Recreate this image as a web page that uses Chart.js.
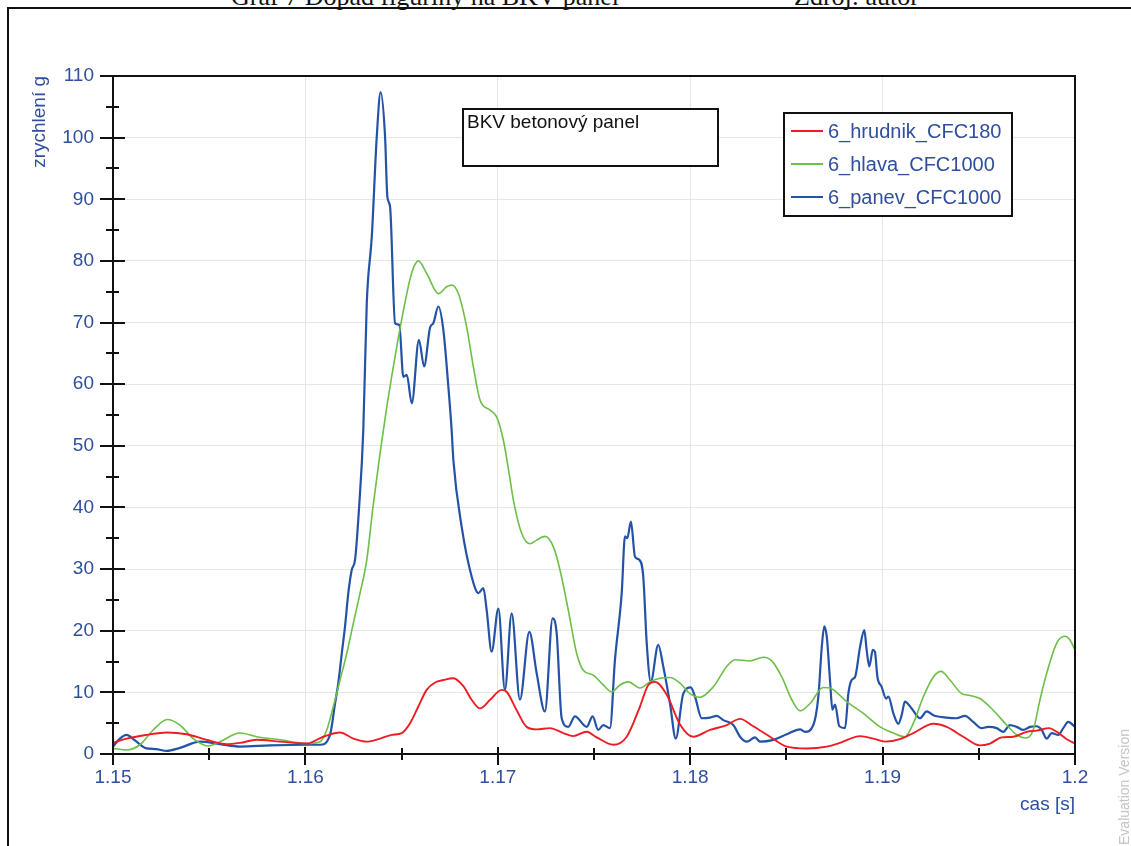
<!DOCTYPE html>
<html>
<head>
<meta charset="utf-8">
<script src="https://cdn.jsdelivr.net/npm/chart.js@4/dist/chart.umd.min.js"></script>
<style>
  html, body { margin: 0; padding: 0; background: #fff; width: 1131px; height: 846px; overflow: hidden; }
  #wrap { position: relative; width: 1131px; height: 846px; }
  #plot { position: absolute; left: 0; top: 0; }
  .frame { position: absolute; left: 7px; top: 7px; width: 1130px; height: 845px;
           border-top: 2px solid #111; border-left: 2px solid #111; }
  .caption { position: absolute; top: -16px; font-family: "Liberation Serif", "Times New Roman", serif;
             font-size: 26px; line-height: 26px; white-space: nowrap; color: #111; }
  .watermark { position: absolute; left: 1064px; top: 779px; width: 120px; height: 16px; line-height: 16px;
               text-align: center; font-family: "Liberation Sans", Arial, sans-serif; font-size: 14px;
               color: #c4c4c4; transform: rotate(-90deg); white-space: nowrap; }
</style>
</head>
<body>
<div id="wrap">
  <div class="frame"></div>
  <div class="caption" style="left:231px">Graf 7 Dopad figuríny na BKV panel</div>
  <div class="caption" style="left:794px">Zdroj: autor</div>
  <canvas id="plot" width="1131" height="846"></canvas>
  <div class="watermark">Evaluation Version</div>
</div>
<script>
// Time axis (s) and tick labels
const xTicks = [1.15, 1.16, 1.17, 1.18, 1.19, 1.2];
const xTickLabels = ['1.15', '1.16', '1.17', '1.18', '1.19', '1.2'];
const xMinorTicks = [1.155, 1.165, 1.175, 1.185, 1.195];
const yTicks = [0, 10, 20, 30, 40, 50, 60, 70, 80, 90, 100, 110];
const yTickLabels = ['0', '10', '20', '30', '40', '50', '60', '70', '80', '90', '100', '110'];
const yMinorTicks = [5, 15, 25, 35, 45, 55, 65, 75, 85, 95, 105];

const seriesNames = ['6_hrudnik_CFC180', '6_hlava_CFC1000', '6_panev_CFC1000'];

// 6_hrudnik_CFC180 (chest)
const hrudnikTime = [1.15000,1.15071,1.15175,1.15279,1.15383,1.15487,1.15591,1.15660,1.15747,1.15868,
  1.16007,1.16093,1.16180,1.16249,1.16319,1.16388,1.16449,1.16501,1.16544,1.16587,
  1.16630,1.16674,1.16717,1.16769,1.16821,1.16864,1.16908,1.16960,1.17020,1.17046,
  1.17098,1.17150,1.17202,1.17271,1.17340,1.17392,1.17462,1.17514,1.17600,1.17670,
  1.17739,1.17782,1.17817,1.17878,1.17947,1.18016,1.18103,1.18190,1.18259,1.18328,
  1.18415,1.18502,1.18606,1.18710,1.18779,1.18883,1.18952,1.19013,1.19090,1.19160,
  1.19264,1.19333,1.19419,1.19506,1.19558,1.19619,1.19679,1.19749,1.19801,1.19866,
  1.19905,1.19957,1.20000];
const hrudnikValue = [1.8,2.5,3.1,3.5,3.2,2.3,1.6,1.8,2.3,2.0,
  1.7,2.8,3.5,2.5,2.0,2.5,3.1,3.4,5.0,7.7,
  10.4,11.6,12.0,12.3,11.0,8.8,7.4,8.8,10.4,10.1,
  7.1,4.4,4.0,4.2,3.4,2.9,3.6,2.7,1.5,2.8,
  7.7,11.2,11.7,9.6,4.8,2.8,3.9,4.7,5.7,4.5,
  2.8,1.2,0.9,1.2,1.8,2.9,2.5,2.0,2.4,3.4,
  4.9,4.4,2.8,1.4,1.7,2.7,2.8,3.6,3.8,4.2,
  3.6,2.4,1.7];

// 6_hlava_CFC1000 (head)
const hlavaTime = [1.15000,1.15071,1.15140,1.15209,1.15282,1.15348,1.15417,1.15495,1.15556,1.15660,
  1.15747,1.15868,1.16007,1.16076,1.16111,1.16145,1.16180,1.16215,1.16249,1.16284,
  1.16319,1.16351,1.16388,1.16423,1.16475,1.16527,1.16554,1.16587,1.16630,1.16691,
  1.16734,1.16760,1.16795,1.16838,1.16873,1.16908,1.16960,1.16994,1.17029,1.17063,
  1.17081,1.17124,1.17167,1.17202,1.17245,1.17289,1.17323,1.17366,1.17410,1.17444,
  1.17496,1.17548,1.17592,1.17635,1.17678,1.17739,1.17791,1.17843,1.17895,1.17947,
  1.17999,1.18051,1.18120,1.18190,1.18233,1.18311,1.18380,1.18424,1.18476,1.18528,
  1.18571,1.18623,1.18692,1.18727,1.18813,1.18900,1.18987,1.19056,1.19116,1.19160,
  1.19212,1.19264,1.19304,1.19350,1.19411,1.19454,1.19506,1.19575,1.19645,1.19697,
  1.19740,1.19783,1.19818,1.19853,1.19905,1.19948,1.19974,1.20000];
const hlavaValue = [0.9,0.65,1.5,3.9,5.6,4.7,2.5,1.3,2.0,3.4,
  2.8,2.3,1.7,2.0,3.9,7.7,12.0,16.3,21.2,26.1,
  31.5,40.0,48.8,56.3,66.1,74.7,78.2,80.0,78.0,74.7,
  75.8,76.1,74.7,69.3,62.8,57.4,55.8,54.7,50.9,44.7,
  41.2,35.8,34.1,34.7,35.3,33.6,29.9,23.4,16.3,13.6,
  12.8,11.2,10.1,11.2,11.7,10.7,11.7,12.3,12.4,11.5,
  9.8,9.2,10.9,14.2,15.3,15.1,15.7,15.1,12.5,8.8,
  7.0,8.2,10.8,10.7,8.5,6.6,4.4,3.4,2.8,5.0,
  9.3,12.5,13.4,12.0,9.8,9.5,9.0,7.1,4.7,3.1,
  2.6,3.9,8.8,13.1,18.0,19.1,18.5,16.9];

// 6_panev_CFC1000 (pelvis)
const panevTime = [1.15000,1.15036,1.15071,1.15114,1.15175,1.15223,1.15279,1.15348,1.15452,1.15556,
  1.15660,1.15816,1.16007,1.16076,1.16128,1.16154,1.16171,1.16189,1.16206,1.16223,
  1.16241,1.16258,1.16279,1.16301,1.16319,1.16345,1.16371,1.16391,1.16414,1.16426,
  1.16440,1.16466,1.16488,1.16509,1.16527,1.16553,1.16590,1.16617,1.16648,1.16665,
  1.16691,1.16717,1.16743,1.16760,1.16769,1.16812,1.16864,1.16899,1.16925,1.16942,
  1.16968,1.17003,1.17037,1.17072,1.17115,1.17164,1.17202,1.17245,1.17285,1.17306,
  1.17332,1.17366,1.17401,1.17462,1.17493,1.17522,1.17548,1.17583,1.17609,1.17644,
  1.17661,1.17673,1.17692,1.17713,1.17736,1.17756,1.17774,1.17795,1.17834,1.17860,
  1.17895,1.17925,1.17964,1.18003,1.18025,1.18060,1.18103,1.18138,1.18172,1.18224,
  1.18259,1.18294,1.18337,1.18363,1.18432,1.18502,1.18571,1.18597,1.18640,1.18666,
  1.18684,1.18697,1.18710,1.18727,1.18739,1.18753,1.18775,1.18805,1.18822,1.18839,
  1.18857,1.18883,1.18905,1.18917,1.18931,1.18949,1.18960,1.18973,1.18995,1.19018,
  1.19030,1.19056,1.19082,1.19099,1.19116,1.19151,1.19194,1.19229,1.19264,1.19333,
  1.19385,1.19428,1.19471,1.19515,1.19549,1.19593,1.19627,1.19662,1.19697,1.19731,
  1.19766,1.19801,1.19827,1.19853,1.19879,1.19913,1.19939,1.19965,1.20000];
const panevValue = [1.2,2.5,3.1,2.2,0.9,0.8,0.5,1.0,2.0,1.6,
  1.2,1.4,1.5,1.5,3.1,8.2,11.5,16.3,20.7,26.1,
  29.9,31.5,40.0,52.6,73.2,83.9,100.2,107.4,100.2,90.4,
  88.8,69.9,69.6,61.2,61.5,56.9,67.2,62.9,69.2,69.9,
  72.6,68.8,59.6,52.6,47.7,36.9,28.8,26.1,26.9,23.4,
  16.6,23.6,10.4,22.8,8.8,19.8,13.1,6.9,22.0,19.6,
  5.8,4.4,6.1,4.4,6.1,3.9,4.7,4.2,15.3,26.1,
  35.3,35.0,37.7,32.0,31.5,28.8,18.0,11.7,17.7,14.2,
  8.2,2.5,9.8,10.8,9.3,5.8,5.9,6.2,5.5,4.7,
  2.8,2.0,2.7,2.0,2.3,3.2,4.0,3.6,4.7,9.3,
  17.4,20.7,19.0,11.8,7.2,8.0,4.5,4.2,9.8,12.0,
  12.5,17.4,20.1,16.9,14.2,16.9,16.6,12.5,10.9,9.0,
  9.3,6.6,4.9,6.3,8.5,7.4,5.8,6.9,6.3,5.9,
  5.8,6.2,5.2,4.2,4.4,4.2,3.6,4.7,4.4,3.9,
  4.4,4.5,3.9,2.5,3.4,3.1,4.2,5.2,4.4];

const seriesColors = ['#ee1c24', '#6cbf47', '#2352a6'];
const labelInk = '#2f4e9e';
const sansFamily = '"Liberation Sans", Arial, sans-serif';

function toPoints(times, values) {
  const n = Math.min(times.length, values.length);
  const out = [];
  for (let i = 0; i < n; i++) out.push({ x: times[i], y: values[i] });
  return out;
}

// Axes frame, crossing tick marks, caption box and legend box
const framePlugin = {
  id: 'frameDecor',
  afterDatasetsDraw(chart) {
    const { ctx, chartArea: a, scales: { x, y } } = chart;
    ctx.save();
    ctx.strokeStyle = '#111';
    ctx.lineWidth = 2;
    ctx.strokeRect(a.left, a.top, a.right - a.left, a.bottom - a.top);

    ctx.beginPath();
    yTicks.forEach(v => {
      const p = Math.round(y.getPixelForValue(v));
      ctx.moveTo(a.left - 13, p); ctx.lineTo(a.left + 12, p);
    });
    yMinorTicks.forEach(v => {
      const p = Math.round(y.getPixelForValue(v));
      ctx.moveTo(a.left - 7, p); ctx.lineTo(a.left + 6, p);
    });
    xTicks.forEach(v => {
      const p = Math.round(x.getPixelForValue(v));
      ctx.moveTo(p, a.bottom - 7); ctx.lineTo(p, a.bottom + 11);
    });
    xMinorTicks.forEach(v => {
      const p = Math.round(x.getPixelForValue(v));
      ctx.moveTo(p, a.bottom - 6); ctx.lineTo(p, a.bottom + 6);
    });
    ctx.stroke();

    // axis title under the time axis, right-aligned to the plot edge
    ctx.fillStyle = labelInk;
    ctx.font = '19px ' + sansFamily;
    ctx.textAlign = 'right';
    ctx.textBaseline = 'middle';
    ctx.fillText('cas [s]', a.right, a.bottom + 51);

    // caption box
    const bx = a.left + 350, by = a.top + 33, bw = 255, bh = 57;
    ctx.fillStyle = '#fff';
    ctx.fillRect(bx, by, bw, bh);
    ctx.strokeRect(bx, by, bw, bh);
    ctx.fillStyle = '#111';
    ctx.font = '19px ' + sansFamily;
    ctx.textBaseline = 'top';
    ctx.textAlign = 'left';
    ctx.fillText('BKV betonový panel', bx + 4, by + 4);

    // legend box
    const lx = a.left + 671, ly = a.top + 37, lw = 228, lh = 103;
    ctx.fillStyle = '#fff';
    ctx.fillRect(lx, ly, lw, lh);
    ctx.strokeRect(lx, ly, lw, lh);
    ctx.font = '20px ' + sansFamily;
    ctx.textBaseline = 'middle';
    chart.data.datasets.forEach((ds, i) => {
      const ry = ly + 18 + i * 33;
      ctx.strokeStyle = ds.borderColor;
      ctx.lineWidth = 2;
      ctx.beginPath();
      ctx.moveTo(lx + 7, ry); ctx.lineTo(lx + 39, ry);
      ctx.stroke();
      ctx.fillStyle = labelInk;
      ctx.fillText(ds.label, lx + 44, ry + 1);
    });
    ctx.restore();
  }
};

new Chart(document.getElementById('plot'), {
  type: 'line',
  data: {
    datasets: [
      { label: seriesNames[0], data: toPoints(hrudnikTime, hrudnikValue), borderColor: seriesColors[0],
        borderWidth: 1.9, pointRadius: 0, cubicInterpolationMode: 'monotone', fill: false },
      { label: seriesNames[1], data: toPoints(hlavaTime, hlavaValue), borderColor: seriesColors[1],
        borderWidth: 1.6, pointRadius: 0, cubicInterpolationMode: 'monotone', fill: false },
      { label: seriesNames[2], data: toPoints(panevTime, panevValue), borderColor: seriesColors[2],
        borderWidth: 2.2, pointRadius: 0, cubicInterpolationMode: 'monotone', fill: false }
    ]
  },
  options: {
    responsive: false,
    animation: false,
    events: [],
    layout: { padding: { top: 76, right: 56, left: 0, bottom: 0 } },
    plugins: { legend: { display: false }, tooltip: { enabled: false } },
    scales: {
      x: {
        type: 'linear', min: 1.15, max: 1.2,
        afterFit(s) { s.height = 92; },
        afterBuildTicks(s) { s.ticks = xTicks.map(v => ({ value: v })); },
        ticks: { callback: (v, i) => xTickLabels[i], color: labelInk, padding: 12,
                 font: { family: sansFamily, size: 19 }, maxRotation: 0, autoSkip: false },
        grid: { color: '#e6e6e6', lineWidth: 1, drawTicks: false },
        border: { display: false }
      },
      y: {
        type: 'linear', min: 0, max: 110,
        afterFit(s) { s.width = 113; },
        afterBuildTicks(s) { s.ticks = yTicks.map(v => ({ value: v })); },
        ticks: { callback: (v, i) => yTickLabels[i], color: labelInk, padding: 19,
                 font: { family: sansFamily, size: 19 }, autoSkip: false },
        grid: { color: '#e6e6e6', lineWidth: 1, drawTicks: false },
        border: { display: false },
        title: { display: true, text: 'zrychlení g', align: 'end', color: labelInk,
                 font: { family: sansFamily, size: 19 }, padding: { top: 28, bottom: 0 } }
      }
    }
  },
  plugins: [framePlugin]
});
</script>
</body>
</html>
